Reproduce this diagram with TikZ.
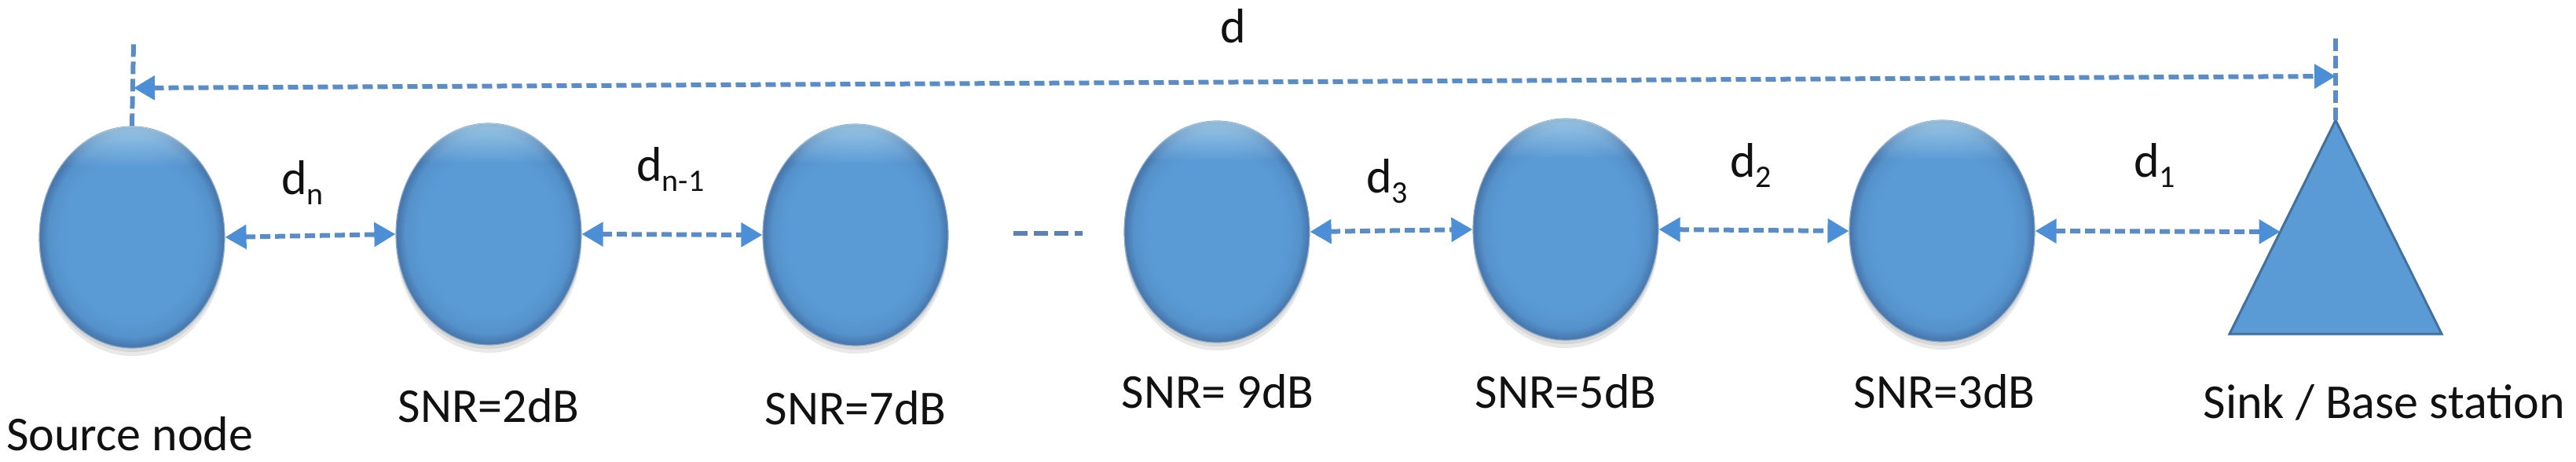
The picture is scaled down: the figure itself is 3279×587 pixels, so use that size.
\documentclass[tikz,border=0pt]{standalone}
\usepackage{fontspec}
\setmainfont{Carlito}
\usetikzlibrary{arrows.meta,shapes.geometric,shadows,calc,fadings}
\definecolor{nodeblue}{HTML}{5B9BD5}
\definecolor{nbmid}{HTML}{5592CC}
\definecolor{nbdark}{HTML}{4878AE}
\definecolor{rimblue}{HTML}{41719C}
\definecolor{lineblue}{HTML}{5A8CC6}
\definecolor{tipblue}{HTML}{4D8FD6}
\definecolor{gapgray}{HTML}{5F80AE}
\definecolor{txt}{HTML}{111111}
\pgfdeclareradialshading{ballshade}{\pgfpoint{0bp}{0bp}}{color(0bp)=(nodeblue); color(18bp)=(nodeblue); color(22.5bp)=(nbmid); color(24.6bp)=(nbdark); color(25bp)=(nbdark); color(50bp)=(nbdark)}
\pgfdeclareverticalshading{hlfade}{100bp}{color(0bp)=(pgftransparent!100); color(66bp)=(pgftransparent!100); color(74bp)=(pgftransparent!45); color(100bp)=(pgftransparent!45)}
\pgfdeclarefading{tophl}{\pgfuseshading{hlfade}}
\newcommand\subtxt[1]{\raisebox{-13pt}{\fontsize{40}{40}\selectfont #1}}
\begin{document}
\begin{tikzpicture}[x=1pt,y=-1pt,
  lbl/.style={font=\fontsize{62}{70}\selectfont, text=txt, inner sep=0pt},
  ball/.style={ellipse, minimum width=236pt, minimum height=282pt, inner sep=0pt,
    shading=ballshade, draw=rimblue!60, line width=1.2pt,
    drop shadow={shadow xshift=0pt, shadow yshift=-10pt, opacity=.12, fill=black!70},
    drop shadow={shadow xshift=0pt, shadow yshift=-5pt, opacity=.12, fill=black!70},
    postaction={fill=white!80!cyan, path fading=tophl}},
  link/.style={draw=lineblue, line width=6pt, dash pattern=on 13pt off 6pt,
    {Triangle[length=27pt,width=30pt,color=tipblue]}-{Triangle[length=27pt,width=30pt,color=tipblue]}},
  guide/.style={draw=lineblue, line width=6pt, dash pattern=on 16pt off 6pt},
  gap/.style={draw=gapgray, line width=6pt, dash pattern=on 18pt off 8pt},
]
\useasboundingbox (0,0) rectangle (3279,587);
% nodes
\node[ball] (n1) at (168,302) {};
\node[ball] (n2) at (622,298) {};
\node[ball] (n3) at (1089,299) {};
\node[ball] (n4) at (1549,295) {};
\node[ball] (n5) at (1993,292) {};
\node[ball] (n6) at (2472,294) {};
% sink triangle
\coordinate (apex) at (2973,153);
\coordinate (bl) at (2838,425);
\coordinate (br) at (3108,425);
\filldraw[fill=nodeblue, draw=rimblue, line width=3pt, line join=miter] (apex) -- (br) -- (bl) -- cycle;
\coordinate (s1) at ($(apex)!0.522!(bl)$);
% guides and total distance
\coordinate (gl) at (170,56);
\coordinate (gr) at (2973,49);
\coordinate (tl) at (170,112);
\coordinate (tr) at (2973,97);
\draw[guide] (n1.north) -- (gl);
\draw[guide] (apex) -- (gr);
\draw[link] (tl) -- (tr);
% hop links
\draw[link] (n1.east) -- (n2.west);
\draw[link] (n2.east) -- (n3.west);
\draw[link] (n4.east) -- (n5.west);
\draw[link] (n5.east) -- (n6.west);
\draw[link] (n6.east) -- (s1);
\coordinate (g1) at (1290,297);
\coordinate (g2) at (1378,297);
\draw[gap] (g1) -- (g2);
% labels
\node[lbl, anchor=base] (ld) at (1570,54) {d};
\node[lbl, anchor=base west] (ldn) at (358,247) {d\subtxt{n}};
\node[lbl, anchor=base west] (ldn1) at (810,230) {d\subtxt{n-1}};
\node[lbl, anchor=base west] (ld3) at (1739,245) {d\subtxt{3}};
\node[lbl, anchor=base west] (ld2) at (2202,225) {d\subtxt{2}};
\node[lbl, anchor=base west] (ld1) at (2716,225) {d\subtxt{1}};
\node[lbl, anchor=base west] (lsrc) at (8,573) {Source node};
\node[lbl, anchor=base] (l2) at (622,537) {SNR=2dB};
\node[lbl, anchor=base] (l7) at (1089,540) {SNR=7dB};
\node[lbl, anchor=base] (l9) at (1550,519) {SNR= 9dB};
\node[lbl, anchor=base] (l5) at (1993,519) {SNR=5dB};
\node[lbl, anchor=base] (l3) at (2475,519) {SNR=3dB};
\node[lbl, anchor=base] (lsink) at (3035,532) {Sink / Base station};
\end{tikzpicture}
\end{document}
